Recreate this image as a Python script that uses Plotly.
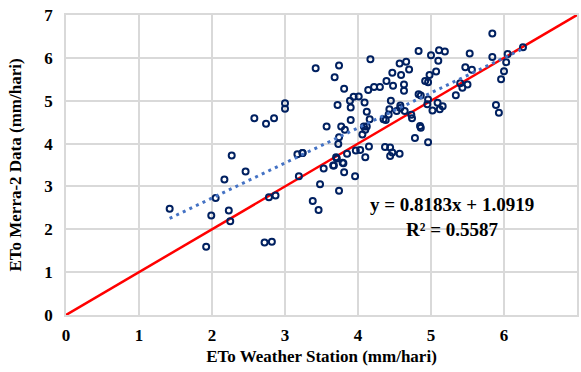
import plotly.graph_objects as go

# ETo Weather Station (x) and ETo Merra-2 (y), mm/hari
station = [3.42, 3.74, 3.68, 4.17, 3.81, 3.94, 3.72, 3.90, 3.57, 3.77, 3.82, 3.90, 3.74, 3.73,
           3.24, 3.70, 3.67, 3.79, 3.53, 3.85, 3.97, 4.03, 4.10, 4.15, 4.06, 4.10, 4.12, 4.09,
           4.12, 4.16, 4.14, 4.22, 4.30, 4.39, 4.47, 4.57, 4.66, 4.59, 4.70, 4.48, 4.63, 4.63,
           4.45, 4.43, 4.42, 4.35, 4.38, 4.53, 4.58, 4.58, 4.64, 4.73, 4.74, 4.83, 4.86, 4.83,
           5.00, 5.11, 5.19, 5.10, 5.07, 4.98, 4.92, 4.96, 4.96, 4.95, 5.09, 5.16, 5.12, 5.02,
           4.85, 4.86, 4.78, 4.96, 4.37, 4.44, 4.47, 4.44, 4.57, 5.53, 5.47, 5.56, 5.84, 5.84,
           6.05, 6.03, 6.00, 5.96, 6.26, 5.89, 5.93, 5.40, 5.43, 5.50, 5.34, 2.58, 2.74, 2.85,
           3.00, 3.00, 2.27, 3.17, 3.24, 1.42, 1.99, 2.05, 2.17, 2.46, 2.23, 2.25, 1.92, 2.72,
           2.82, 2.78, 2.87, 3.19, 3.38, 3.46, 3.48, 3.66, 3.80, 3.81, 3.96, 3.74, 3.71, 4.08,
           3.89, 4.01]
merra = [5.76, 5.82, 5.55, 5.97, 5.28, 5.09, 4.90, 4.84, 4.40, 4.40, 4.32, 4.55, 4.15, 3.99,
         3.78, 3.68, 3.49, 3.55, 3.42, 3.76, 3.84, 3.85, 3.68, 3.93, 4.21, 4.32, 4.40, 4.96,
         4.74, 4.57, 5.25, 5.32, 5.32, 5.46, 5.65, 5.87, 5.91, 5.60, 5.73, 5.35, 5.38, 5.23,
         5.00, 4.80, 4.68, 4.57, 4.55, 4.76, 4.89, 4.83, 4.76, 4.67, 4.59, 5.15, 5.12, 6.16,
         6.06, 6.18, 6.15, 5.93, 5.68, 5.60, 5.46, 5.43, 5.03, 4.92, 4.95, 4.87, 4.80, 4.77,
         4.41, 4.37, 4.13, 4.03, 3.92, 3.91, 3.79, 3.71, 3.76, 6.10, 5.78, 5.72, 6.57, 6.02,
         6.09, 5.90, 5.69, 5.50, 6.25, 4.90, 4.72, 5.41, 5.30, 5.38, 5.13, 4.59, 4.46, 4.59,
         4.94, 4.81, 3.72, 3.75, 3.78, 2.48, 2.32, 2.73, 3.16, 3.35, 2.44, 2.19, 1.59, 1.69,
         1.71, 2.75, 2.79, 3.24, 2.66, 2.45, 3.05, 3.49, 3.54, 3.33, 3.24, 2.90, 3.65, 4.40,
         5.00, 5.10]

slope = 0.8183
intercept = 1.0919
trend_x = [min(station), max(station)]
trend_y = [slope * v + intercept for v in trend_x]
ref_x = [0, 7]
ref_y = [0, 7]
ticks = [0, 1, 2, 3, 4, 5, 6, 7]

FONT = "Liberation Serif"

fig = go.Figure()
fig.add_trace(go.Scatter(x=ref_x, y=ref_y, mode="lines",
                         line=dict(color="#FF0000", width=2.5), showlegend=False))
fig.add_trace(go.Scatter(x=station, y=merra, mode="markers",
                         marker=dict(symbol="circle-open", size=6, color="#002060",
                                     line=dict(width=2, color="#002060")),
                         showlegend=False))
fig.add_trace(go.Scatter(x=trend_x, y=trend_y, mode="lines",
                         line=dict(color="#4472C4", width=3, dash="3px,4.3px"), showlegend=False))

fig.add_annotation(x=5.29, y=2.28, xref="x", yref="y",
                   text="y = 0.8183x + 1.0919<br>R² = 0.5587",
                   showarrow=False, align="center",
                   font=dict(family=FONT, size=19, color="#000000", weight="bold"))

axis_common = dict(range=[0, 7], tickvals=ticks, showgrid=True, gridcolor="#D9D9D9",
                   gridwidth=1.5, zeroline=False, showline=True, linecolor="#D9D9D9",
                   linewidth=1.5, mirror=True, automargin=False,
                   tickfont=dict(family=FONT, size=17, color="#000000", weight="bold"))

fig.update_xaxes(**axis_common, ticks="outside", ticklen=4, tickcolor="rgba(0,0,0,0)",
                 title=dict(text="ETo Weather Station (mm/hari)", standoff=6,
                            font=dict(family=FONT, size=17, color="#000000", weight="bold")))
fig.update_yaxes(**axis_common, ticks="outside", ticklen=8, tickcolor="rgba(0,0,0,0)",
                 title=dict(text="ETo Merra-2 Data (mm/hari)", standoff=18,
                            font=dict(family=FONT, size=17, color="#000000", weight="bold")))

fig.update_layout(width=581, height=372, margin=dict(l=66, r=4, t=15, b=57),
                  plot_bgcolor="white", paper_bgcolor="white")

fig.write_html("out.html")
